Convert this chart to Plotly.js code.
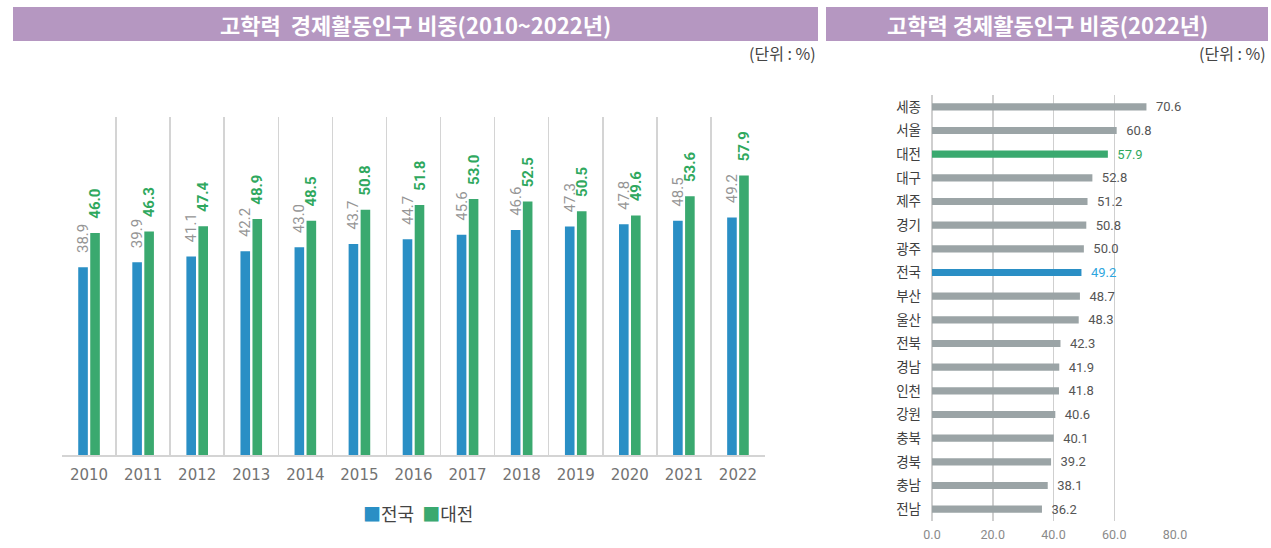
<!DOCTYPE html>
<html><head><meta charset="utf-8">
<script src="https://cdn.plot.ly/plotly-3.0.1.min.js"></script>
<style>html,body{margin:0;padding:0;background:#fff}#chart{width:1271px;height:548px}</style>
</head><body><div id="chart"></div>
<script>
const years = ['2010','2011','2012','2013','2014','2015','2016','2017','2018','2019','2020','2021','2022'];
const national = [38.9, 39.9, 41.1, 42.2, 43.0, 43.7, 44.7, 45.6, 46.6, 47.3, 47.8, 48.5, 49.2];
const daejeon = [46.0, 46.3, 47.4, 48.9, 48.5, 50.8, 51.8, 53.0, 52.5, 50.5, 49.6, 53.6, 57.9];
const regions = ['세종','서울','대전','대구','제주','경기','광주','전국','부산','울산','전북','경남','인천','강원','충북','경북','충남','전남'];
const regionValues = [70.6, 60.8, 57.9, 52.8, 51.2, 50.8, 50.0, 49.2, 48.7, 48.3, 42.3, 41.9, 41.8, 40.6, 40.1, 39.2, 38.1, 36.2];
const seriesNames = ['전국','대전'];
const leftTitle = '고학력\u00a0 경제활동인구 비중(2010~2022년)';
const rightTitle = '고학력 경제활동인구 비중(2022년)';
const unitText = '(단위 : %)';

const BLUE = '#2A8FC5', GREEN = '#3AA96F', GRAY = '#9BA4A6';
const NUM_FONT = 'Roboto, "Liberation Sans", sans-serif';
const KR_FONT = '"Noto Sans CJK KR", "Noto Sans", sans-serif';
const NB = '\u00a0\u00a0\u00a0';

const barColors = regions.map(r => r === '대전' ? GREEN : (r === '전국' ? BLUE : GRAY));
const labelColors = regions.map(r => r === '대전' ? '#2FA85E' : (r === '전국' ? '#2EA6DE' : '#555555'));

const traces = [
  {type:'bar', x: years, y: national, name: seriesNames[0], xaxis:'x', yaxis:'y', showlegend:false,
   marker:{color: BLUE}, text: national.map(v => NB + v.toFixed(1)), textposition:'outside',
   textangle:-90, constraintext:'none', cliponaxis:false,
   textfont:{family: NUM_FONT, size:15, color:'#959595'}, hoverinfo:'x+y'},
  {type:'bar', x: years, y: daejeon, name: seriesNames[1], xaxis:'x', yaxis:'y', showlegend:false,
   marker:{color: GREEN}, text: daejeon.map(v => NB + v.toFixed(1)), textposition:'outside',
   textangle:-90, constraintext:'none', cliponaxis:false,
   textfont:{family: NUM_FONT, size:15, color:'#2FA85E', weight:'bold'}, hoverinfo:'x+y'},
  {type:'bar', orientation:'h', x: regionValues, y: regions, xaxis:'x2', yaxis:'y2',
   showlegend:false, width:0.3, marker:{color: barColors},
   text: regionValues.map(v => '\u00a0\u00a0' + v.toFixed(1)), textposition:'outside', constraintext:'none', cliponaxis:false,
   textfont:{family: NUM_FONT, size:13, color: labelColors}, hoverinfo:'x+y'}
];

const W = 1271, H = 548;
const px = v => v / W, py = v => 1 - v / H;

const legendText = '<span style="color:' + BLUE + '">■</span>' + seriesNames[0] +
                   '\u00a0\u00a0<span style="color:' + GREEN + '">■</span>' + seriesNames[1];

const layout = {
  width: W, height: H, margin:{l:0,r:0,t:0,b:0},
  paper_bgcolor:'#fff', plot_bgcolor:'#fff',
  barmode:'group', bargap:0.556, bargroupgap:0.2,
  font:{family: KR_FONT, color:'#444'},
  showlegend:false,
  xaxis:{domain:[px(62), px(765)], anchor:'y', type:'category', tickson:'boundaries',
         showgrid:true, gridcolor:'#D4D4D4', gridwidth:1.5, showline:true, linecolor:'#D4D4D4', linewidth:1.5,
         ticks:'', ticklabelstandoff:5, tickfont:{family:'"DejaVu Sans", sans-serif', size:15, color:'#737373'},
         fixedrange:true},
  yaxis:{domain:[py(455), py(117)], anchor:'x', range:[0,70], visible:false, showgrid:false, zeroline:false, fixedrange:true},
  xaxis2:{domain:[px(932), px(1175)], anchor:'y2', range:[0,80], dtick:20, tick0:0, tickformat:'.1f',
          showgrid:true, gridcolor:'#CFCFCF', gridwidth:1.5, zeroline:true, zerolinecolor:'#CFCFCF', zerolinewidth:1.5,
          ticks:'', ticklabelstandoff:4, tickfont:{family: NUM_FONT, size:12.5, color:'#8A8A8A'}, fixedrange:true},
  yaxis2:{domain:[py(521), py(95)], anchor:'x2', type:'category', autorange:'reversed',
          showgrid:false, zeroline:false, ticks:'', ticklabelstandoff:10,
          tickfont:{family: KR_FONT, size:13.5, color:'#404040'}, fixedrange:true},
  shapes:[
    {type:'rect', xref:'paper', yref:'paper', x0:px(13), x1:px(818), y0:py(41), y1:py(7), fillcolor:'#B597C1', line:{width:0}, layer:'below'},
    {type:'rect', xref:'paper', yref:'paper', x0:px(826), x1:px(1268), y0:py(41), y1:py(7), fillcolor:'#B597C1', line:{width:0}, layer:'below'}
  ],
  annotations:[
    {xref:'paper', yref:'paper', x:px(415.5), y:py(24), xanchor:'center', yanchor:'middle', showarrow:false,
     text:'<b>'+leftTitle+'</b>', font:{family: KR_FONT, size:22, color:'#fff'}},
    {xref:'paper', yref:'paper', x:px(1047.5), y:py(24), xanchor:'center', yanchor:'middle', showarrow:false,
     text:'<b>'+rightTitle+'</b>', font:{family: KR_FONT, size:22, color:'#fff'}},
    {xref:'paper', yref:'paper', x:px(818), y:py(53), xanchor:'right', yanchor:'middle', showarrow:false,
     text:unitText, font:{family: KR_FONT, size:16, color:'#444'}},
    {xref:'paper', yref:'paper', x:px(1268), y:py(53), xanchor:'right', yanchor:'middle', showarrow:false,
     text:unitText, font:{family: KR_FONT, size:16, color:'#444'}},
    {xref:'paper', yref:'paper', x:px(418), y:py(513), xanchor:'center', yanchor:'middle', showarrow:false,
     text:legendText, font:{family: KR_FONT, size:18, color:'#444'}}
  ]
};

Plotly.newPlot('chart', traces, layout, {displayModeBar:false, staticPlot:true});
</script></body></html>
